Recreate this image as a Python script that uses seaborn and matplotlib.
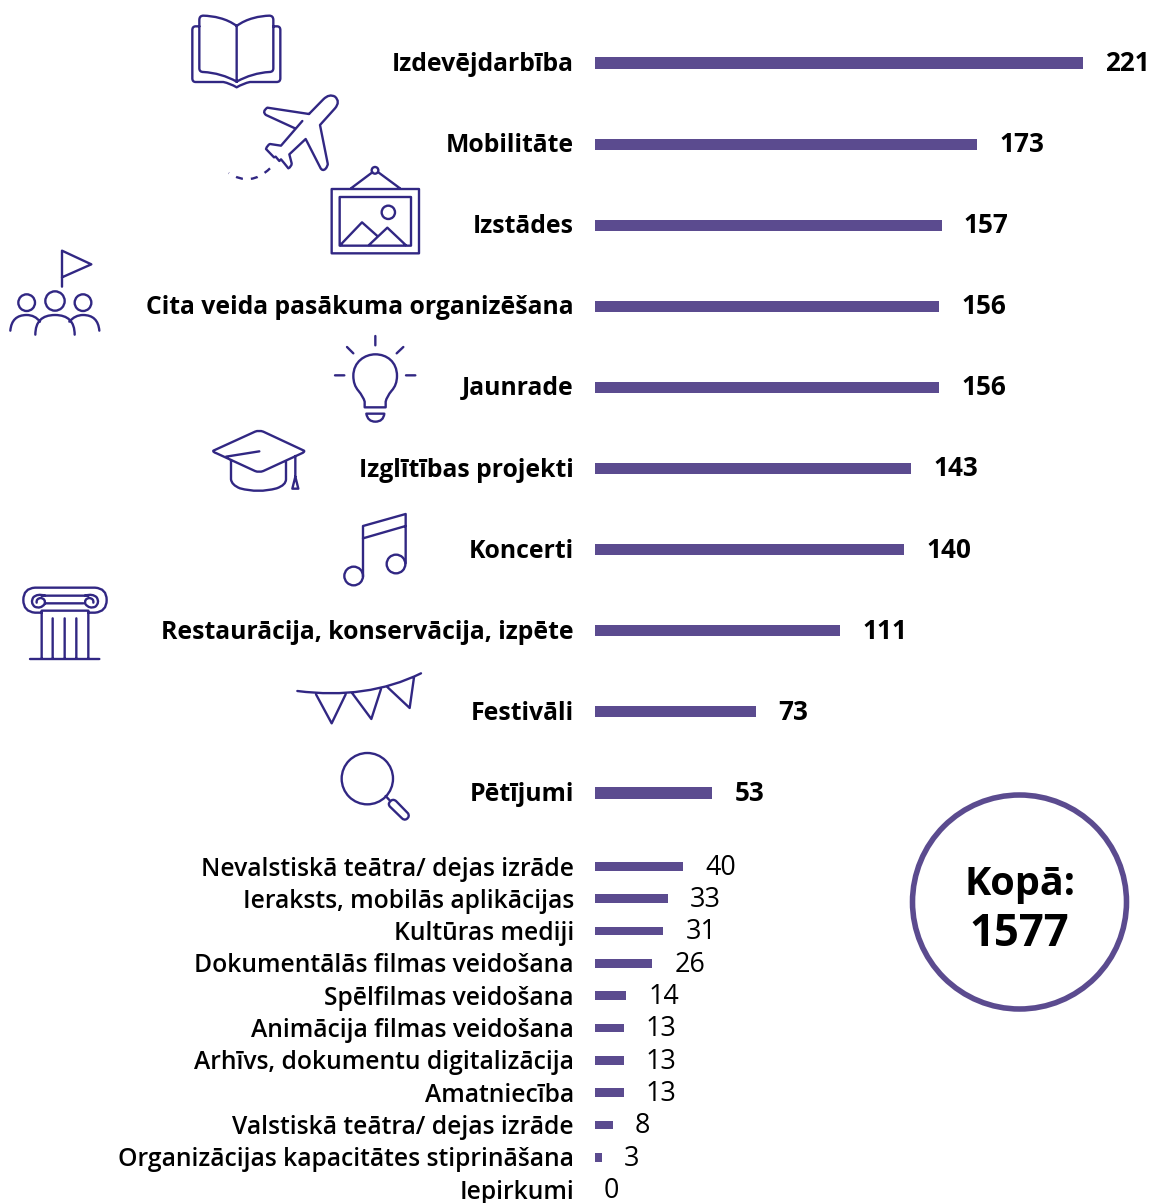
import re
import pandas as pd
import seaborn as sns
import matplotlib
matplotlib.use("Agg")
import matplotlib.pyplot as plt
from matplotlib.path import Path
from matplotlib.patches import PathPatch, Circle
from matplotlib.transforms import ScaledTranslation

top_labels = ["Izdevējdarbība", "Mobilitāte", "Izstādes", "Cita veida pasākuma organizēšana", "Jaunrade",
              "Izglītības projekti", "Koncerti", "Restaurācija, konservācija, izpēte", "Festivāli", "Pētījumi"]
top_values = [221, 173, 157, 156, 156, 143, 140, 111, 73, 53]
low_labels = ["Nevalstiskā teātra/ dejas izrāde", "Ieraksts, mobilās aplikācijas", "Kultūras mediji",
              "Dokumentālās filmas veidošana", "Spēlfilmas veidošana", "Animācija filmas veidošana",
              "Arhīvs, dokumentu digitalizācija", "Amatniecība", "Valstiskā teātra/ dejas izrāde",
              "Organizācijas kapacitātes stiprināšana", "Iepirkumi"]
low_values = [40, 33, 31, 26, 14, 13, 13, 13, 8, 3, 0]

W, H = 1153, 1203
BAR = "#5b4b8f"
ICON = "#312783"
PX_PER_UNIT = 488 / 221

sns.set_theme(style="white")
plt.rcParams["font.family"] = ["Open Sans", "DejaVu Sans"]

fig = plt.figure(figsize=(W / 100, H / 100), dpi=100)


def make_ax(top, bottom):
    # pixel box -> figure fractions
    ax = fig.add_axes([595 / W, 1 - bottom / H, 550 / W, (bottom - top) / H])
    ax.patch.set_alpha(0)
    return ax


def bars(ax, labels, values, width, size, weight, num_size, num_weight, label_up, num_up):
    df = pd.DataFrame({"name": labels, "value": values})
    sns.barplot(data=df, x="value", y="name", color=BAR, saturation=1, width=width, linewidth=0, ax=ax)
    ax.set_xlim(0, 550 / PX_PER_UNIT)
    ax.set_xlabel("")
    ax.set_ylabel("")
    ax.set_xticks([])
    ax.tick_params(axis="y", length=0, pad=15.2, labelcolor="black")
    for t in ax.get_yticklabels():
        t.set_fontsize(size)
        t.set_fontweight(weight)
        t.set_transform(t.get_transform() + ScaledTranslation(0, label_up / 100, fig.dpi_scale_trans))
    sns.despine(ax=ax, left=True, bottom=True)
    for i, v in enumerate(values):
        pad = 16 if v > 0 else 6
        ax.annotate(str(v), (v, i), xytext=(pad, num_up), textcoords="offset points",
                    va="center", ha="left", fontsize=num_size, fontweight=num_weight, color="black")


ax1 = make_ax(22.45, 833.55)
bars(ax1, top_labels, top_values, 0.136, 17.8, "bold", 18.8, "bold", 1.5, -0.3)
ax2 = make_ax(850.35, 1205.65)
bars(ax2, low_labels, low_values, 0.27, 17.7, 600, 19.4, "normal", 0.5, -1.0)

# full-figure layer in pixel coordinates for the icons and the total badge
lay = fig.add_axes([0, 0, 1, 1])
lay.set_xlim(0, W)
lay.set_ylim(H, 0)
lay.axis("off")


def sketch(d, ox, oy, **kw):
    # small path parser, coordinates taken from 3x crops
    verts, codes = [], []
    kinds = {"M": (Path.MOVETO, 1), "L": (Path.LINETO, 1), "Q": (Path.CURVE3, 2), "C": (Path.CURVE4, 3)}
    for cmd, body in re.findall(r"([MLQCZ])([^MLQCZ]*)", d):
        if cmd == "Z":
            verts.append(verts[-1])
            codes.append(Path.CLOSEPOLY)
            continue
        nums = [float(n) for n in body.split()]
        code, n = kinds[cmd]
        for k in range(0, len(nums), 2):
            verts.append((ox + nums[k] / 3, oy + nums[k + 1] / 3))
            codes.append(code)
    style = dict(fc="none", ec=ICON, lw=1.7, capstyle="round", joinstyle="round")
    style.update(kw)
    lay.add_patch(PathPatch(Path(verts, codes), **style))


def ring(x, y, r, ox, oy):
    lay.add_patch(Circle((ox + x / 3, oy + y / 3), r / 3, fc="none", ec=ICON, lw=1.7))


# book
sketch("M170 78 C140 55 100 48 70 47 Q58 47 58 60 L58 205 Q58 216 70 216 C105 218 140 228 170 245 "
       "M170 78 C200 55 240 48 268 47 Q280 47 280 60 L280 205 Q280 216 268 216 C235 218 200 228 170 245 "
       "M170 78 L170 245 "
       "M58 79 L47 79 Q37 79 37 90 L37 235 Q37 246 47 246 L130 246 Q150 250 170 262 Q190 250 210 246 "
       "L290 246 Q301 246 301 235 L301 90 Q301 79 291 79 L280 79", 180, 0)
# plane
sketch("M387 342 L430 298 Q448 280 465 290 Q482 305 465 325 L420 375 L443 490 Q445 497 436 507 Q428 514 422 505 "
       "L377 417 L328 463 L335 490 Q335 500 325 505 L313 490 L303 478 L298 483 L287 470 L282 472 L258 447 "
       "Q262 435 270 432 L303 437 L367 363 "
       "M345 385 L258 345 Q245 335 262 323 L387 342", 180, 0)
sketch("M270 505 Q212 562 146 519", 180, 0, linestyle=(0, (3.0, 3.4)), capstyle="butt")
# picture
sketch("M455 567 L717 567 L717 760 L455 760 Z M479 591 L693 591 L693 737 L479 737 Z "
       "M513 565 L577 517 M595 517 L660 565 "
       "M481 735 L546 667 L592 708 M567 735 L622 683 L677 735", 180, 0)
ring(585, 511, 10, 180, 0)
ring(625, 637, 20, 180, 0)
# flag and people
sketch("M186 140 L186 32 L274 73 L186 112 "
       "M106 284 Q106 225 165 225 Q224 225 224 284 "
       "M31 272 Q35 225 80 225 Q105 225 120 245 "
       "M298 272 Q294 225 249 225 Q225 225 208 245", 0, 240)
ring(80, 188, 25, 0, 240)
ring(165, 183, 29, 0, 240)
ring(249, 188, 25, 0, 240)
# bulb
sketch("M1126 288 L1126 316 M1041 321 L1060 340 M1210 321 L1190 340 M1005 406 L1033 406 M1218 406 L1246 406 "
       "M1094 502 L1094 485 Q1090 470 1075 452 Q1060 435 1060 408 C1060 365 1095 343 1126 343 "
       "C1160 343 1191 365 1191 408 Q1191 435 1175 452 Q1160 470 1157 485 L1157 502 Z "
       "M1099 521 L1153 521 Q1150 545 1126 545 Q1103 545 1099 521 Z", 0, 240)
# graduation cap
sketch("M640 632 L765 575 Q777 570 790 575 L912 632 Q915 636 905 640 L790 693 Q777 698 765 693 L650 640 "
       "Q638 636 640 632 Z M678 650 L778 634 "
       "M693 660 L693 718 Q695 735 720 745 Q775 760 830 745 Q858 735 858 718 L858 665 "
       "M886 648 L886 710 M886 710 L895 746 L877 746 Z", 0, 240)
# notes
sketch("M1089 230 L1089 78 L1217 42 L1217 190 M1089 115 L1217 78", 0, 500)
ring(1061, 228, 28, 0, 500)
ring(1188, 192, 28, 0, 500)
# column
sketch("M125 338 L105 338 Q70 335 70 300 Q70 265 105 263 L285 263 Q320 265 320 300 Q320 335 285 338 L265 338 "
       "M125 287 L265 287 M135 310 L250 310 M125 332 L265 332 "
       "M135 287 Q112 280 100 292 Q90 308 104 320 Q122 328 134 312 Q138 296 122 294 Q108 296 110 308 "
       "M255 287 Q278 280 290 292 Q300 308 286 320 Q268 328 256 312 Q252 296 268 294 Q282 296 280 308 "
       "M125 335 L125 476 M265 335 L265 476 M158 355 L158 476 M194 355 L194 476 M229 355 L229 476 "
       "M90 477 L298 477", 0, 500)
# bunting
sketch("M892 573 Q1100 600 1263 520 "
       "M948 583 L995 670 L1037 583 M1057 580 L1114 657 L1143 567 M1163 562 L1229 624 L1242 532", 0, 500)
# magnifier
sketch("M1157 888 L1168 900 "
       "M1170 905 Q1178 895 1188 903 L1224 940 Q1230 950 1220 957 Q1212 962 1205 954 L1170 920 Q1163 912 1170 905 Z",
       0, 500)
ring(1102, 836, 77, 0, 500)

# total badge
lay.add_patch(Circle((1019.5, 902), 107, fc="none", ec=BAR, lw=4))
lay.text(1019.5, 885, "Kopā:", ha="center", va="center", fontsize=28.5, fontweight="bold", color="black")
lay.text(1019.5, 935, "1577", ha="center", va="center", fontsize=31.5, fontweight="bold", color="black")

fig.savefig("out.png", dpi=100, facecolor="white")
